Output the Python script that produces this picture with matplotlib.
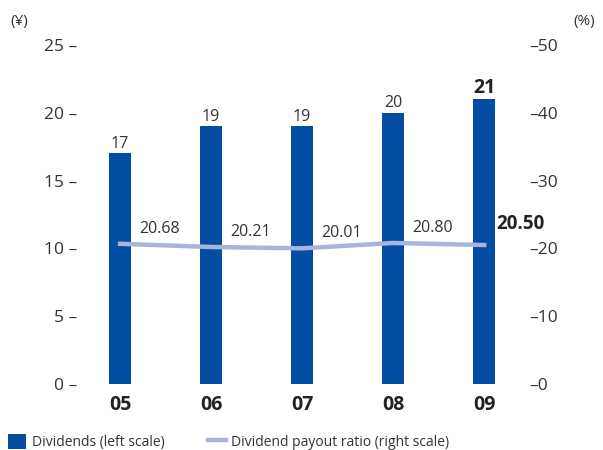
import matplotlib.pyplot as plt
import numpy as np
from matplotlib.ticker import FuncFormatter

plt.rcParams['font.family'] = ['Open Sans', 'DejaVu Sans']

years = ["05", "06", "07", "08", "09"]
dividends = [17, 19, 19, 20, 21]
payout = [20.68, 20.21, 20.01, 20.80, 20.50]

bar_color = "#034ea2"
line_color = "#aab3dc"
text_color = "#333333"

x = np.arange(len(years))

fig = plt.figure(figsize=(6.03, 4.5), dpi=100)
ax = fig.add_axes([90 / 603, 66 / 450, 427 / 603, 339 / 450])
ax2 = ax.twinx()

bars = ax.bar(x, dividends, width=0.24, color=bar_color, zorder=2,
              label="Dividends (left scale)")
line, = ax2.plot(x, payout, color=line_color, lw=3.2, zorder=3,
                 label="Dividend payout ratio (right scale)")
ax.set_zorder(ax2.get_zorder() - 1)
ax2.patch.set_visible(False)

ax.set_xlim(-0.33, 4.36)
ax.set_ylim(0, 25)
ax2.set_ylim(0, 50)

ax.set_yticks(range(0, 26, 5))
ax2.set_yticks(range(0, 51, 10))
ax.yaxis.set_major_formatter(FuncFormatter(lambda v, p: f"{int(v)} \u2013"))
ax2.yaxis.set_major_formatter(FuncFormatter(lambda v, p: f"\u2013{int(v)}"))

for a in (ax, ax2):
    for s in a.spines.values():
        s.set_visible(False)
    a.tick_params(axis="y", length=0, labelsize=12.5, labelcolor=text_color)
ax.tick_params(axis="y", pad=9)
ax2.tick_params(axis="y", pad=9)

ax.set_xticks(x)
ax.set_xticklabels(years, fontsize=14, fontweight="bold", color="#222222")
ax.tick_params(axis="x", length=0, pad=8)

# dividend values above bars, last one emphasised
for i, v in enumerate(dividends):
    last = i == len(dividends) - 1
    ax.annotate(str(v), (x[i], v), xytext=(0, 1), textcoords="offset points",
                ha="center", va="bottom", color="#222222" if last else text_color,
                fontsize=14 if last else 11.5, fontweight="bold" if last else "normal")

# payout ratio labels
for i, v in enumerate(payout):
    last = i == len(payout) - 1
    if last:
        ax2.annotate(f"{v:.2f}", (x[i], v), xytext=(9, 8), textcoords="offset points",
                     ha="left", va="bottom", fontsize=13.5, fontweight="bold",
                     color="#222222")
    else:
        ax2.annotate(f"{v:.2f}", (x[i], v), xytext=(14, 5), textcoords="offset points",
                     ha="left", va="bottom", fontsize=11.5, color=text_color)

fig.text(10 / 603, 1 - 22 / 450, "(\u00a5)", fontsize=11, color=text_color, va="center")
fig.text(1 - 8 / 603, 1 - 22 / 450, "(%)", fontsize=11, color=text_color,
         va="center", ha="right")

fig.legend(handles=[bars, line], loc="lower left", bbox_to_anchor=(0.0, -0.018),
           ncol=2, frameon=False, fontsize=10, handlelength=1.3, handleheight=1.3,
           handletextpad=0.4, columnspacing=3.1, borderaxespad=0.2,
           labelcolor=text_color)

fig.savefig("out.png", dpi=100)
